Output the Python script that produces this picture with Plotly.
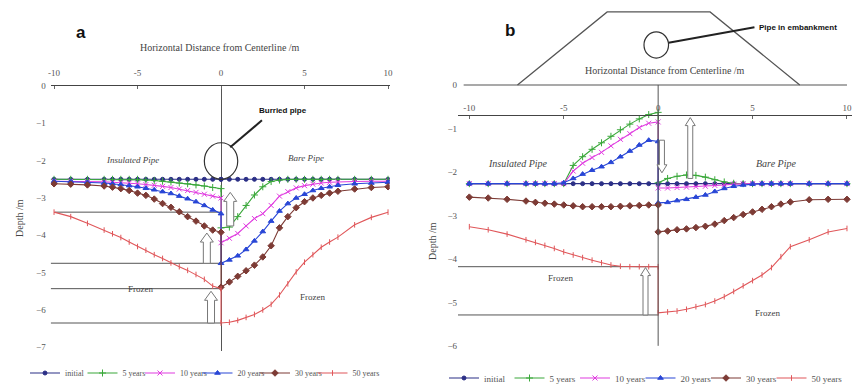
import plotly.graph_objects as go

# ---------------- data ----------------
x_left = [-10, -9, -8, -7, -6.5, -6, -5.5, -5, -4.5, -4, -3.5, -3, -2.5, -2, -1.5, -1, -0.5, 0]
x_right = [0, 0.5, 1, 1.5, 2, 2.5, 3, 3.5, 4, 4.5, 5, 5.5, 6, 6.5, 7, 8, 9, 10]
series_names = ["initial", "5 years", "10 years", "20 years", "30 years", "50 years"]

# Panel a (buried pipe): left = insulated, right = bare
a_init_L = [-2.5, -2.5, -2.5, -2.5, -2.5, -2.5, -2.5, -2.5, -2.5, -2.5, -2.5, -2.5, -2.5, -2.5, -2.5, -2.5, -2.5, -2.5]
a_init_R = [-2.5, -2.5, -2.5, -2.5, -2.5, -2.5, -2.5, -2.5, -2.5, -2.5, -2.5, -2.5, -2.5, -2.5, -2.5, -2.5, -2.5, -2.5]
a5_L = [-2.5, -2.5, -2.5, -2.5, -2.5, -2.5, -2.5, -2.5, -2.52, -2.53, -2.55, -2.57, -2.6, -2.62, -2.65, -2.68, -2.72, -2.75]
a5_R = [-3.8, -3.78, -3.5, -3.2, -2.92, -2.7, -2.56, -2.52, -2.5, -2.5, -2.5, -2.5, -2.5, -2.5, -2.5, -2.5, -2.5, -2.5]
a10_L = [-2.55, -2.55, -2.56, -2.57, -2.58, -2.59, -2.6, -2.62, -2.64, -2.66, -2.69, -2.72, -2.76, -2.8, -2.85, -2.9, -2.95, -3.0]
a10_R = [-4.2, -4.08, -3.95, -3.75, -3.55, -3.42, -3.2, -2.95, -2.83, -2.73, -2.67, -2.63, -2.6, -2.58, -2.57, -2.56, -2.55, -2.55]
a20_L = [-2.55, -2.56, -2.58, -2.6, -2.62, -2.64, -2.67, -2.7, -2.74, -2.78, -2.83, -2.88, -2.95, -3.02, -3.1, -3.2, -3.32, -3.42]
a20_R = [-4.75, -4.66, -4.55, -4.38, -4.15, -3.9, -3.62, -3.35, -3.15, -3.0, -2.9, -2.8, -2.74, -2.7, -2.66, -2.62, -2.6, -2.58]
a30_L = [-2.62, -2.63, -2.65, -2.68, -2.71, -2.75, -2.8, -2.87, -2.93, -3.03, -3.15, -3.25, -3.37, -3.5, -3.62, -3.75, -3.86, -3.92]
a30_R = [-5.39, -5.25, -5.1, -4.95, -4.8, -4.58, -4.28, -3.8, -3.5, -3.26, -3.1, -3.0, -2.93, -2.87, -2.82, -2.76, -2.72, -2.7]
a50_L = [-3.38, -3.5, -3.68, -3.86, -3.96, -4.06, -4.18, -4.3, -4.4, -4.52, -4.62, -4.74, -4.84, -4.94, -5.05, -5.18, -5.36, -5.43]
a50_R = [-6.35, -6.33, -6.28, -6.2, -6.12, -6.0, -5.85, -5.6, -5.3, -4.98, -4.72, -4.52, -4.32, -4.18, -4.05, -3.72, -3.52, -3.38]

# Panel b (pipe in embankment)
b_init_L = [-2.27, -2.27, -2.27, -2.27, -2.27, -2.27, -2.27, -2.27, -2.27, -2.27, -2.27, -2.27, -2.27, -2.27, -2.27, -2.27, -2.27, -2.27]
b_init_R = [-2.27, -2.27, -2.27, -2.27, -2.27, -2.27, -2.27, -2.27, -2.27, -2.27, -2.27, -2.27, -2.27, -2.27, -2.27, -2.27, -2.27, -2.27]
b5_L = [-2.27, -2.27, -2.27, -2.27, -2.27, -2.27, -2.27, -2.27, -1.85, -1.65, -1.48, -1.33, -1.18, -1.03, -0.9, -0.78, -0.68, -0.63]
b5_R = [-2.25, -2.15, -2.1, -2.07, -2.08, -2.12, -2.18, -2.23, -2.26, -2.27, -2.27, -2.27, -2.27, -2.27, -2.27, -2.27, -2.27, -2.27]
b10_L = [-2.27, -2.27, -2.27, -2.27, -2.27, -2.27, -2.27, -2.27, -1.98, -1.8, -1.67, -1.55, -1.4, -1.25, -1.12, -0.98, -0.88, -0.85]
b10_R = [-2.37, -2.37, -2.36, -2.35, -2.34, -2.33, -2.31, -2.3, -2.28, -2.27, -2.27, -2.27, -2.27, -2.27, -2.27, -2.27, -2.27, -2.27]
b20_L = [-2.27, -2.27, -2.27, -2.27, -2.27, -2.27, -2.27, -2.25, -2.15, -2.05, -1.96, -1.88, -1.78, -1.65, -1.52, -1.38, -1.27, -1.3]
b20_R = [-2.71, -2.7, -2.66, -2.63, -2.58, -2.53, -2.45, -2.38, -2.33, -2.3, -2.28, -2.27, -2.27, -2.27, -2.27, -2.27, -2.27, -2.27]
b30_L = [-2.58, -2.6, -2.63, -2.67, -2.7, -2.72, -2.74, -2.76, -2.78, -2.8, -2.8, -2.8, -2.8, -2.79, -2.78, -2.77, -2.76, -2.76]
b30_R = [-3.38, -3.36, -3.33, -3.31, -3.28, -3.25, -3.2, -3.12, -3.05, -2.98, -2.92, -2.86, -2.8, -2.74, -2.69, -2.64, -2.63, -2.63]
b50_L = [-3.26, -3.33, -3.43, -3.56, -3.62, -3.69, -3.76, -3.84, -3.91, -3.97, -4.03, -4.09, -4.14, -4.17, -4.18, -4.18, -4.18, -4.18]
b50_R = [-5.24, -5.22, -5.2, -5.16, -5.1, -5.05, -4.97, -4.87, -4.75, -4.62, -4.5, -4.37, -4.2, -3.95, -3.72, -3.56, -3.38, -3.3]

x_ticks = [-10, -5, 0, 5, 10]
x_ticktext = ["-10", "-5", "0", "5", "10"]
ya_ticks = [0, -1, -2, -3, -4, -5, -6, -7]
yb_ticks = [0, -1, -2, -3, -4, -5, -6]

panel_a = [(a_init_L, a_init_R), (a5_L, a5_R), (a10_L, a10_R), (a20_L, a20_R), (a30_L, a30_R), (a50_L, a50_R)]
panel_b = [(b_init_L, b_init_R), (b5_L, b5_R), (b10_L, b10_R), (b20_L, b20_R), (b30_L, b30_R), (b50_L, b50_R)]

# ---------------- styles ----------------
colors = ["#2b2f86", "#3aa83a", "#e03ce0", "#2846d6", "#7d3b35", "#e0575a"]
symbols = ["circle", "cross-thin-open", "x-thin-open", "triangle-up", "diamond", "line-ns-open"]
msizes = [4, 5, 5, 5, 5, 4]
SERIF = "Liberation Serif"
SANS = "Liberation Sans"
TXT = "#444444"
W, H = 855, 385


def legend_id(n):
    return "legend" if n == 1 else f"legend{n}"


fig = go.Figure()

for i, name in enumerate(series_names):
    L, R = panel_a[i]
    fig.add_trace(go.Scatter(
        x=x_left + x_right, y=L + R, name=name, mode="lines+markers", showlegend=True,
        line=dict(color=colors[i], width=1.1),
        marker=dict(symbol=symbols[i], size=msizes[i], color=colors[i],
                    line=dict(color=colors[i], width=1)),
        xaxis="x", yaxis="y", legend=legend_id(i + 1)))
for i, name in enumerate(series_names):
    L, R = panel_b[i]
    fig.add_trace(go.Scatter(
        x=x_left + x_right, y=L + R, name=name, mode="lines+markers", showlegend=True,
        line=dict(color=colors[i], width=1.1),
        marker=dict(symbol=symbols[i], size=msizes[i], color=colors[i],
                    line=dict(color=colors[i], width=1)),
        xaxis="x2", yaxis="y2", legend=legend_id(i + 7)))

# pixels per data unit of each panel (used only to size the hollow arrows)
SA = (16.7, 37.3)
SB = (18.9, 43.5)


def arrow_path(x, y0, y1, scale, sw=3.5, hw=6.5, hl=9):
    sx, sy = scale
    d = 1 if y1 > y0 else -1
    w, h, L = sw / sx, hw / sx, d * hl / sy
    pts = [(x - w, y0), (x - w, y1 - L), (x - h, y1 - L), (x, y1),
           (x + h, y1 - L), (x + w, y1 - L), (x + w, y0)]
    return "M " + " L ".join(f"{a:.4f},{b:.4f}" for a, b in pts) + " Z"


shapes = []
LINEC = "#555555"
# panel a reference lines
for x0, yv in [(-9.95, a50_L[0]), (-10.2, a20_R[0]), (-10.2, a50_L[-1]), (-10.2, a50_R[0])]:
    shapes.append(dict(type="line", xref="x", yref="y", x0=x0, x1=0, y0=yv, y1=yv,
                       line=dict(color=LINEC, width=1), layer="below"))
# panel a arrows
for x, y0, y1 in [(-0.85, a20_R[0], a30_L[-1] - 0.02), (0.55, -3.75, -2.85), (-0.6, a50_R[0], -5.5)]:
    shapes.append(dict(type="path", xref="x", yref="y", path=arrow_path(x, y0, y1, SA),
                       fillcolor="white", line=dict(color="#777777", width=1)))
# panel a buried-pipe circle + leader
shapes.append(dict(type="circle", xref="x", yref="y", x0=-1.0, x1=1.0, y0=-2.5, y1=-1.52,
                   line=dict(color="#333333", width=1.2)))
shapes.append(dict(type="line", xref="x", yref="y", x0=0.55, y0=-1.64, x1=2.45, y1=-0.92,
                   line=dict(color="#222222", width=2)))

# panel b
shapes.append(dict(type="line", xref="x2", yref="y2", x0=-10.3, x1=10.0, y0=0, y1=0,
                   line=dict(color=LINEC, width=1.2)))
shapes.append(dict(type="line", xref="x2", yref="y2", x0=0, x1=0, y0=0, y1=-6.0,
                   line=dict(color=LINEC, width=1)))
shapes.append(dict(type="path", xref="x2", yref="y2",
                   path="M -7.45,0 L -2.7,1.68 L 2.75,1.68 L 7.5,0",
                   line=dict(color="#555555", width=1.3)))
shapes.append(dict(type="circle", xref="x2", yref="y2", x0=-0.75, x1=0.55, y0=0.62, y1=1.22,
                   line=dict(color="#333333", width=1.2)))
shapes.append(dict(type="line", xref="x2", yref="y2", x0=0.55, y0=0.97, x1=5.1, y1=1.33,
                   line=dict(color="#222222", width=2)))
for x0, yv in [(-10.6, b50_L[-1]), (-10.6, b50_R[0] - 0.05)]:
    shapes.append(dict(type="line", xref="x2", yref="y2", x0=x0, x1=0, y0=yv, y1=yv,
                       line=dict(color=LINEC, width=1), layer="below"))
for x, y0, y1 in [(1.7, -2.15, -0.75), (0.2, -1.27, -2.02), (-0.67, b50_R[0] - 0.05, -4.2)]:
    shapes.append(dict(type="path", xref="x2", yref="y2",
                       path=arrow_path(x, y0, y1, SB, sw=2.5, hw=5, hl=8),
                       fillcolor="white", line=dict(color="#777777", width=1)))


def P(xp, yp):
    return xp / W, 1 - yp / H


annotations = []


def txt(text, xp, yp, size=10, font=SERIF, color=TXT, xanchor="center", angle=0):
    x, y = P(xp, yp)
    annotations.append(dict(text=text, x=x, y=y, xref="paper", yref="paper", showarrow=False,
                            xanchor=xanchor, yanchor="middle", textangle=angle,
                            font=dict(family=font, size=size, color=color)))


txt("<b>a</b>", 81, 32, size=17, font=SANS, color="#111111")
txt("<b>b</b>", 510, 30, size=17, font=SANS, color="#111111")
txt("Horizontal Distance from Centerline /m", 220, 47, size=10)
txt("Horizontal Distance from Centerline /m", 665, 70, size=10)
txt("Depth /m", 19, 218, size=10, angle=-90)
txt("Depth /m", 432, 241, size=10, angle=-90)
txt("<i>Insulated Pipe</i>", 132, 160, size=9)
txt("<i>Bare Pipe</i>", 306, 158, size=9)
txt("<i>Insulated Pipe</i>", 518, 163, size=10)
txt("<i>Bare Pipe</i>", 776, 163, size=10)
txt("Frozen", 140, 289, size=9)
txt("Frozen", 312, 297, size=9)
txt("Frozen", 560, 278, size=9)
txt("Frozen", 767, 313, size=9)
txt("<b>Burried pipe</b>", 257, 110, size=8, font=SANS, color="#111111", xanchor="left")
txt("<b>Pipe in embankment</b>", 757, 27, size=8, font=SANS, color="#111111", xanchor="left")

axis_common = dict(showgrid=False, automargin=False,
                   tickfont=dict(family=SERIF, size=9, color="#555555"))


def legend_box(xp, yp, size):
    return dict(orientation="h", x=xp / W, y=1 - yp / H, xanchor="left", yanchor="middle",
                font=dict(family=SERIF, size=size, color="#555555"),
                bgcolor="rgba(0,0,0,0)", itemwidth=30, visible=True)


legends = {}
for i in range(6):
    legends[legend_id(i + 1)] = legend_box(25 + i * 57.5, 373, 8)
    legends[legend_id(i + 7)] = legend_box(444 + i * 65.5, 378, 9)

fig.update_layout(
    template="none", showlegend=True,
    width=W, height=H, margin=dict(l=0, r=0, t=0, b=0, autoexpand=False),
    paper_bgcolor="white", plot_bgcolor="rgba(0,0,0,0)",
    xaxis=dict(domain=[50.7 / W, 389.7 / W], anchor="y", side="top", range=[-10.2, 10.1],
               tickvals=x_ticks, ticktext=x_ticktext, showline=True, linecolor="#444444",
               linewidth=1.2, ticks="inside", ticklen=3, tickcolor="#666666", ticklabelstandoff=5,
               zeroline=True, zerolinecolor="#555555", zerolinewidth=1, **axis_common),
    yaxis=dict(domain=[1 - 351 / H, 1 - 86 / H], anchor="x", range=[-7.1, 0],
               tickvals=ya_ticks, showline=False, zeroline=False, ticks="", ticklabelstandoff=4,
               **axis_common),
    xaxis2=dict(domain=[458 / W, 851.7 / W], anchor="free", position=1 - 115 / H, side="top",
                range=[-10.6, 10.25], tickvals=x_ticks, ticktext=x_ticktext, showline=True,
                linecolor="#444444", linewidth=1.2, ticks="inside", ticklen=3, tickcolor="#666666",
                zeroline=False, **axis_common),
    yaxis2=dict(domain=[1 - 348 / H, 1 - 8.9 / H], anchor="x2", range=[-6.05, 1.75],
                tickvals=yb_ticks, showline=False, zeroline=False, ticks="", **axis_common),
    shapes=shapes, annotations=annotations,
    **legends,
)

fig.write_html("out.html", config={"displayModeBar": False},
               post_script="document.body.style.margin='0';document.body.style.overflow='hidden';")
